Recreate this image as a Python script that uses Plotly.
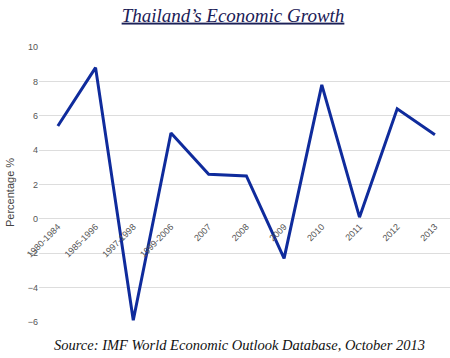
import plotly.graph_objects as go

categories = ["1980-1984", "1985-1996", "1997-1998", "1999-2006", "2007", "2008",
              "2009", "2010", "2011", "2012", "2013"]
growth = [5.4, 8.8, -5.9, 5.0, 2.6, 2.5, -2.3, 7.8, 0.1, 6.4, 4.9]
y_ticks = [-6, -4, -2, 0, 2, 4, 6, 8, 10]

fig = go.Figure()
fig.add_trace(go.Scatter(
    x=categories, y=growth, mode="lines",
    line=dict(color="#0f2b9c", width=3),
    hoverinfo="skip", showlegend=False,
))

fig.update_layout(
    width=450, height=358,
    margin=dict(l=39, r=0, t=47, b=36),
    paper_bgcolor="white", plot_bgcolor="white",
    title=dict(
        text="Thailand\u2019s Economic Growth",
        x=233 / 450, xref="container", xanchor="center",
        y=1 - 15 / 358, yref="container", yanchor="middle",
        font=dict(family="Liberation Serif", size=19, color="#1b2057",
                  style="italic", lineposition="under"),
    ),
    xaxis=dict(
        type="category", range=[-0.5, 10.4],
        anchor="free", position=6 / 16,
        showgrid=False, showline=False, zeroline=False, ticks="",
        tickangle=-45,
        tickfont=dict(family="Liberation Sans", size=9, color="#555555"),
    ),
    yaxis=dict(
        range=[-6, 10], tickvals=y_ticks,
        showgrid=True, gridcolor="#dddddd", gridwidth=1,
        zeroline=False, showline=False, ticks="",
        tickfont=dict(family="Liberation Sans", size=9, color="#555555"),
    ),
    annotations=[
        dict(text="Percentage %", textangle=-90,
             xref="paper", x=(10 - 39) / 411, xanchor="center",
             yref="paper", y=(322 - 193) / 275, yanchor="middle",
             showarrow=False,
             font=dict(family="Liberation Sans", size=11, color="#444444")),
        dict(text="Source: IMF World Economic Outlook Database, October 2013",
             xref="paper", x=(239 - 39) / 411, xanchor="center",
             yref="paper", y=(322 - 345) / 275, yanchor="middle",
             showarrow=False,
             font=dict(family="Liberation Serif", size=14.5, color="#111111",
                       style="italic")),
    ],
)

fig.write_html("out.html",
               config={"displayModeBar": False},
               post_script="document.body.style.margin='0';document.body.style.overflow='hidden';")
